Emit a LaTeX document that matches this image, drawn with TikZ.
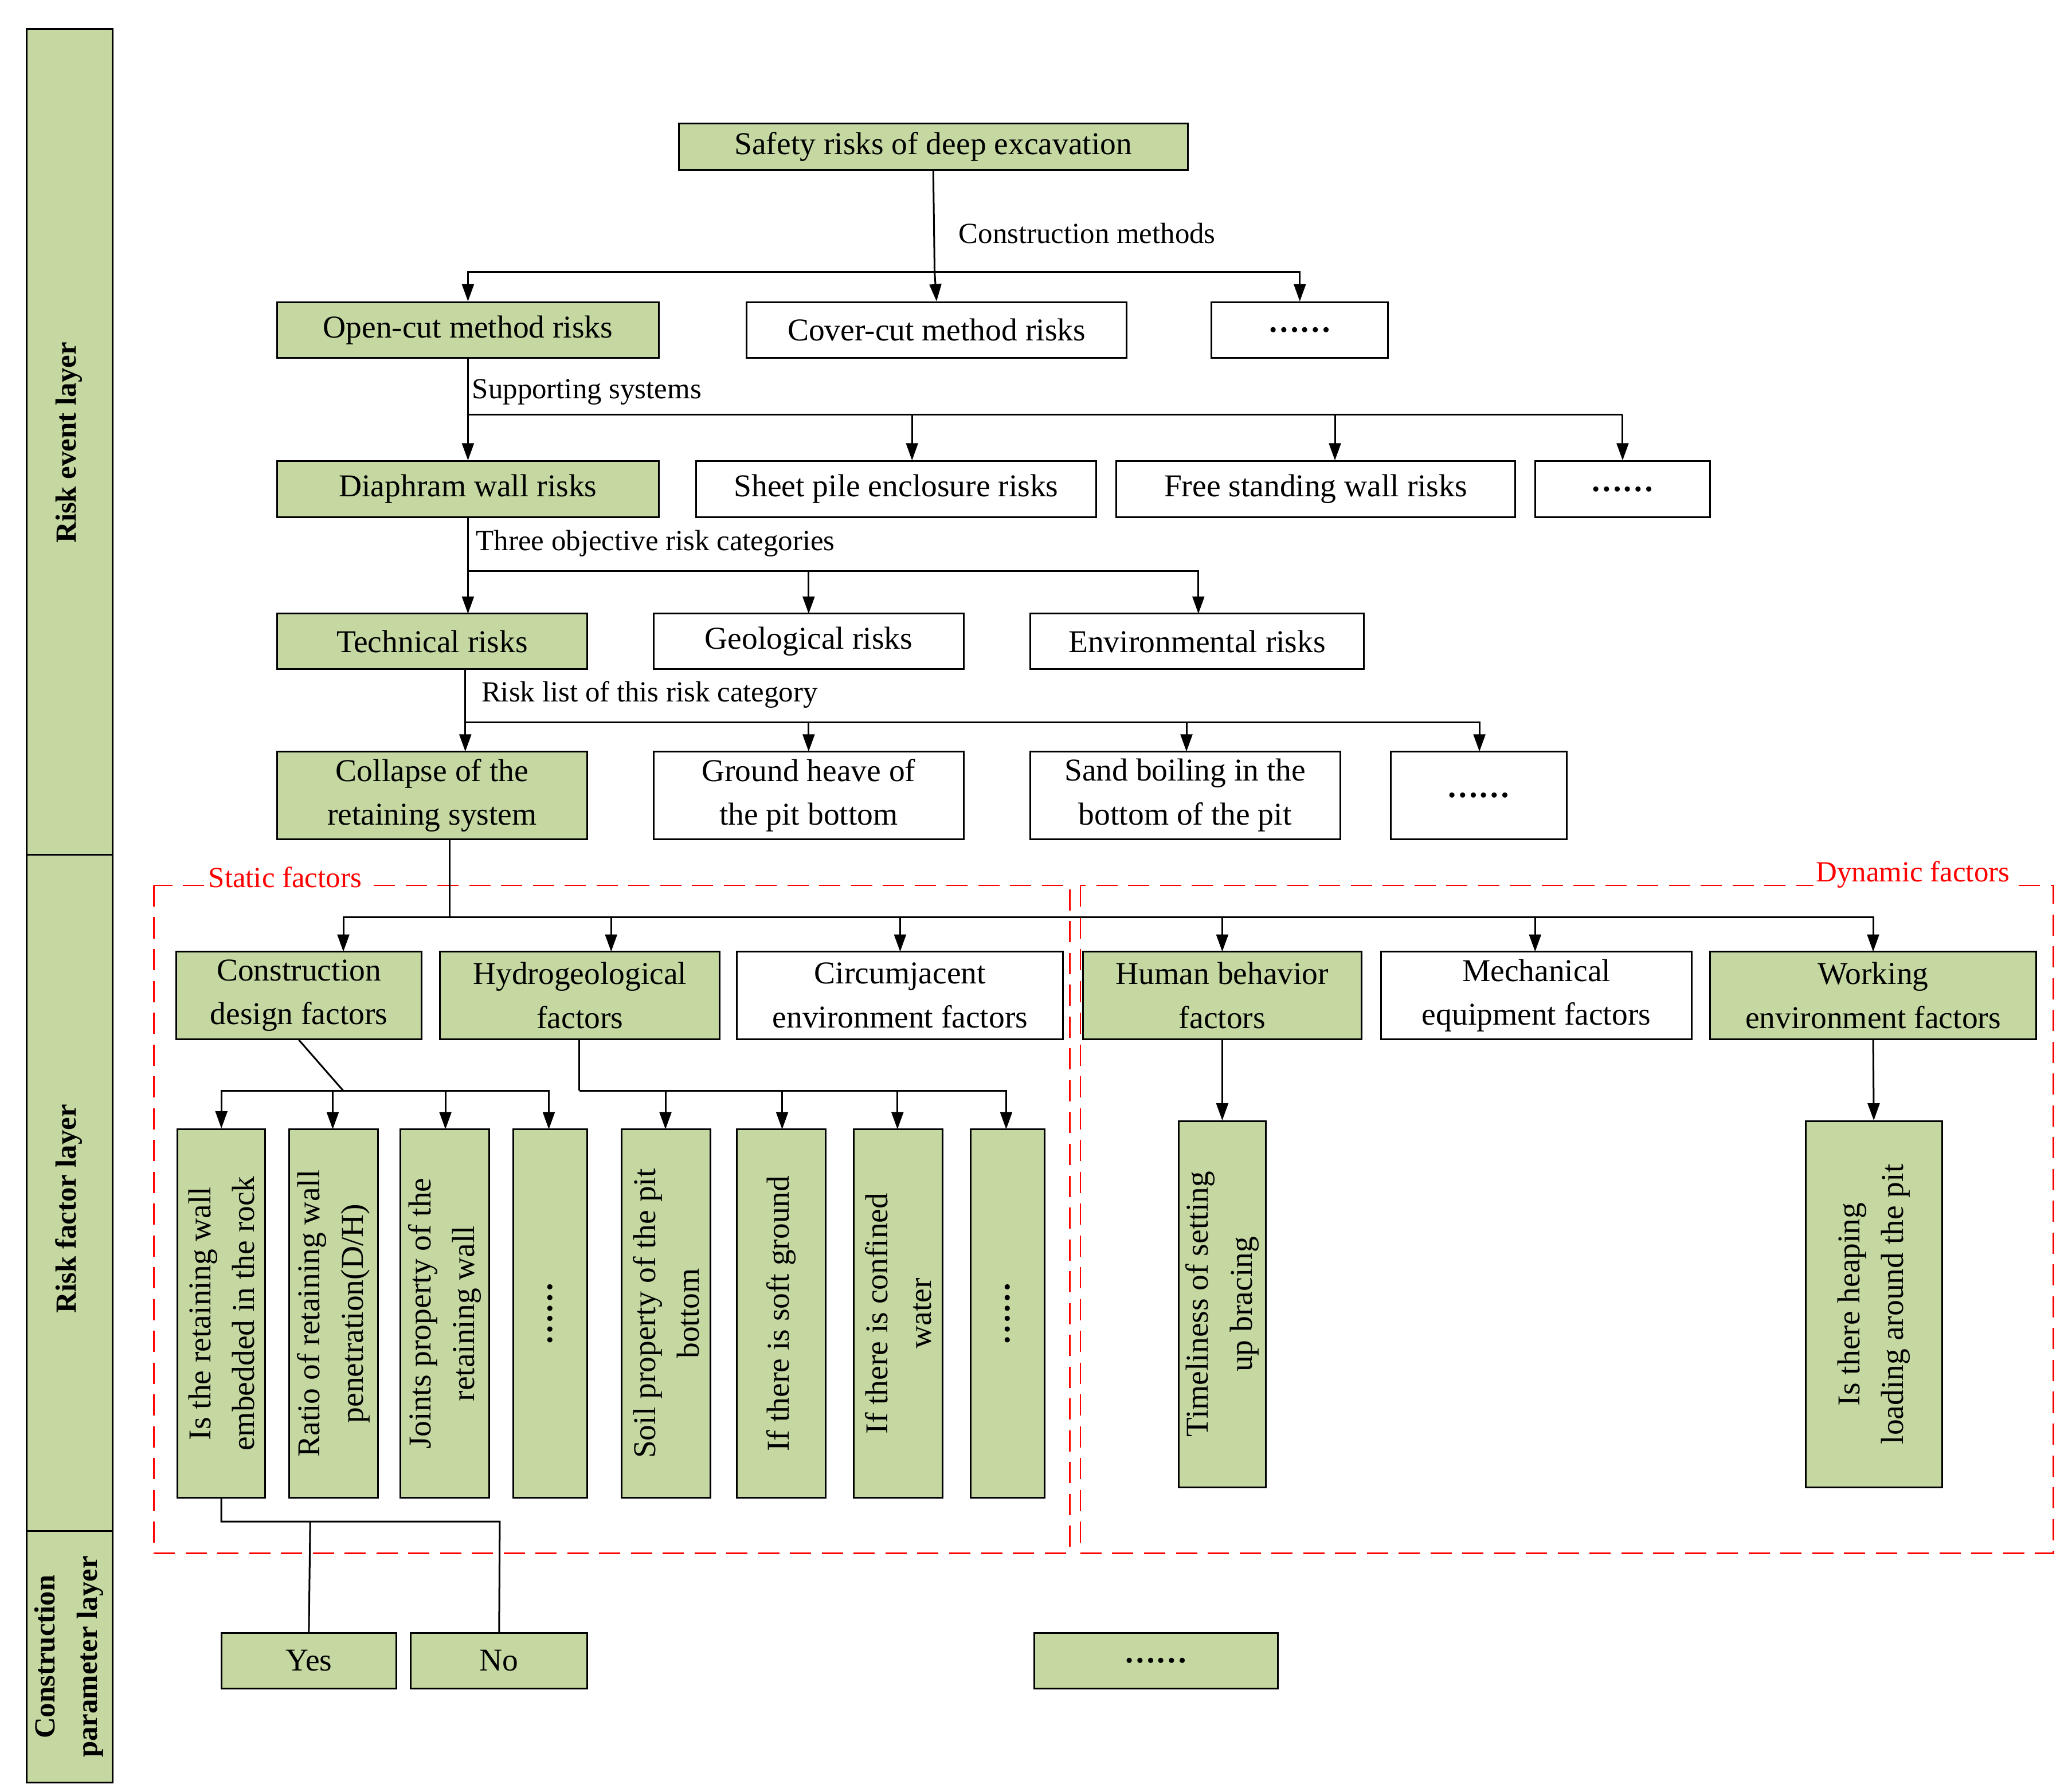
\documentclass[tikz,border=0pt]{standalone}
\usepackage{fontspec}
\setmainfont{Liberation Serif}
\usetikzlibrary{arrows.meta}
\definecolor{gr}{RGB}{197,216,161}
\newcommand\bx[7]{\node[#6,minimum width={(#4-#2)*1pt},minimum height={(#5-#3)*1pt}] (#1) at ({(#2+#4)/2},{(#3+#5)/2}) {#7};}
\begin{document}
\begin{tikzpicture}[x=1pt,y=-1pt,
 box/.style={draw,line width=1.3pt,inner sep=0pt,align=center,font=\fontsize{24}{33}\selectfont},
 g/.style={box,fill=gr},
 w/.style={box,fill=white},
 vg/.style={g,rotate=90},
 lay/.style={draw,line width=1.3pt,fill=gr,inner sep=0pt},
 ln/.style={line width=1.3pt},
 arr/.style={ln,-{Triangle[length=13pt,width=9pt]}},
 lbl/.style={anchor=west,inner sep=1pt,font=\fontsize{22}{26}\selectfont},
 dsh/.style={draw=red,line width=1.2pt,dash pattern=on 16pt off 8pt}]
\useasboundingbox (0,0) rectangle (1560,1352);
% layers
\draw[lay] (20,22) rectangle (85,645);
\draw[lay] (20,645) rectangle (85,1155);
\draw[lay] (20,1155) rectangle (85,1345);
\node[rotate=90,font=\bfseries\fontsize{22}{24}\selectfont] (L1) at (52,334) {Risk event layer};
\node[rotate=90,font=\bfseries\fontsize{22}{24}\selectfont] (L2) at (52,912) {Risk factor layer};
\node[rotate=90,align=center,font=\bfseries\fontsize{22}{32}\selectfont] (L3) at (52,1250) {Construction\\parameter layer};
% dashed
\draw[dsh] (116,668) rectangle (807,1172);
\draw[dsh] (815,668) rectangle (1549,1172);
\node[fill=white,text=red,inner sep=2pt,font=\fontsize{22}{26}\selectfont] (sf) at (215,662) {Static factors};
\node[fill=white,text=red,inner sep=2pt,font=\fontsize{22}{26}\selectfont] (df) at (1443,660) {Dynamic factors};
% row 1
\bx{s}{512}{93}{896}{128}{g}{Safety risks of deep excavation}
\bx{oc}{209}{228}{497}{270}{g}{Open-cut method risks}
\bx{cc}{563}{228}{850}{270}{w}{Cover-cut method risks}
\bx{d1}{914}{228}{1047}{270}{w}{\textbf{\dots\dots}}
\coordinate (j1) at (705,205);
\draw[ln] (s.south) -- (j1);
\draw[arr] (j1) -| (oc.north);
\draw[arr] (j1) -- (cc.north);
\draw[arr] (j1) -| (d1.north);
\node[lbl] (t1) at (722,176) {Construction methods};
% row 3
\bx{dw}{209}{348}{497}{390}{g}{Diaphram wall risks}
\bx{sp}{525}{348}{827}{390}{w}{Sheet pile enclosure risks}
\bx{fs}{842}{348}{1143}{390}{w}{Free standing wall risks}
\bx{d2}{1158}{348}{1290}{390}{w}{\textbf{\dots\dots}}
\coordinate (j2) at (353,313);
\coordinate (j2b) at (688,313);
\coordinate (j2c) at (1007,313);
\coordinate (j2d) at (1224,313);
\draw[ln] (oc.south) -- (j2);
\draw[arr] (j2) -- (dw.north);
\draw[ln] (j2) -- (j2d);
\draw[arr] (j2b) -- (j2b|-sp.north);
\draw[arr] (j2c) -- (j2c|-fs.north);
\draw[arr] (j2d) -- (j2d|-d2.north);
\node[lbl] (t2) at (355,296) {Supporting systems};
% row 4
\bx{tr}{209}{463}{443}{505}{g}{Technical risks}
\bx{ge}{493}{463}{727}{505}{w}{Geological risks}
\bx{en}{777}{463}{1029}{505}{w}{Environmental risks}
\coordinate (j3) at (353,431);
\draw[ln] (dw.south) -- (j3);
\draw[arr] (j3) -- (353,463);
\draw[arr] (j3) -| (610,463);
\draw[arr] (j3) -| (904,463);
\node[lbl] (t3) at (358,410) {Three objective risk categories};
% row 5
\bx{co}{209}{567}{443}{633}{g}{Collapse of the\\retaining system}
\bx{gh}{493}{567}{727}{633}{w}{Ground heave of\\the pit bottom}
\bx{sb}{777}{567}{1011}{633}{w}{Sand boiling in the\\bottom of the pit}
\bx{d3}{1049}{567}{1182}{633}{w}{\textbf{\dots\dots}}
\coordinate (j4) at (351,545);
\draw[ln] (351,505) -- (j4);
\draw[arr] (j4) -- (351,567);
\draw[arr] (j4) -| (610,567);
\draw[arr] (j4) -| (895,567);
\draw[arr] (j4) -| (1116,567);
\node[lbl] (t4) at (362,524) {Risk list of this risk category};
% row 6
\bx{cd}{133}{718}{318}{784}{g}{Construction\\design factors}
\bx{hy}{332}{718}{543}{784}{g}{Hydrogeological\\factors}
\bx{ci}{556}{718}{802}{784}{w}{Circumjacent\\environment factors}
\bx{hb}{817}{718}{1027}{784}{g}{Human behavior\\factors}
\bx{me}{1042}{718}{1276}{784}{w}{Mechanical\\equipment factors}
\bx{we}{1290}{718}{1536}{784}{g}{Working\\environment factors}
\coordinate (j5) at (339,692);
\draw[ln] (339,633) -- (j5);
\draw[arr] (j5) -| (259,718);
\draw[arr] (j5) -| (461,718);
\draw[arr] (j5) -| (679,718);
\draw[arr] (j5) -| (922,718);
\draw[arr] (j5) -| (1158,718);
\draw[arr] (j5) -| (1413,718);
% vertical boxes
\bx{v1}{134}{852}{200}{1130}{g}{}
\bx{v2}{218}{852}{285}{1130}{g}{}
\bx{v3}{302}{852}{369}{1130}{g}{}
\bx{v4}{387}{852}{443}{1130}{g}{}
\bx{v5}{469}{852}{536}{1130}{g}{}
\bx{v6}{556}{852}{623}{1130}{g}{}
\bx{v7}{644}{852}{711}{1130}{g}{}
\bx{v8}{732}{852}{788}{1130}{g}{}
\bx{v9}{889}{846}{955}{1122}{g}{}
\bx{v10}{1362}{846}{1465}{1122}{g}{}
\tikzset{vt/.style={rotate=90,align=center,inner sep=0pt,font=\fontsize{24}{33}\selectfont}}
\node[vt] (tv1) at (v1) {Is the retaining wall\\embedded in the rock};
\node[vt] (tv2) at (v2) {Ratio of retaining wall\\penetration(D/H)};
\node[vt] (tv3) at (v3) {Joints property of the\\retaining wall};
\node[vt] (tv4) at (v4) {\textbf{\dots\dots}};
\node[vt] (tv5) at (v5) {Soil property of the pit\\bottom};
\node[vt] (tv6) at (v6) {If there is soft ground};
\node[vt] (tv7) at (v7) {If there is confined\\water};
\node[vt] (tv8) at (v8) {\textbf{\dots\dots}};
\node[vt] (tv9) at (v9) {Timeliness of setting\\up bracing};
\node[vt] (tv10) at (v10) {Is there heaping\\loading around the pit};
\coordinate (j6) at (259,823);
\draw[ln] (cd.south) -- (j6);
\draw[arr] (j6) -| (v1.north);
\draw[arr] (j6) -| (251,852);
\draw[arr] (j6) -| (336,852);
\draw[arr] (j6) -| (414,852);
\coordinate (j7) at (437,823);
\draw[ln] (437,784) -- (j7);
\draw[arr] (j7) -| (502,852);
\draw[arr] (j7) -| (590,852);
\draw[arr] (j7) -| (677,852);
\draw[arr] (j7) -| (759,852);
\draw[arr] (hb.south) -- (v9.north);
\draw[arr] (we.south) -- (v10.north);
% parameter layer
\bx{yes}{167}{1232}{299}{1274}{g}{Yes}
\bx{no}{310}{1232}{443}{1274}{g}{No}
\bx{d4}{780}{1232}{964}{1274}{g}{\textbf{\dots\dots}}
\coordinate (j8) at (167,1148);
\draw[ln] (167,1130) -- (j8) -- (377,1148) -- (no.north);
\draw[ln] (234,1148) -- (yes.north);
\end{tikzpicture}
\end{document}
